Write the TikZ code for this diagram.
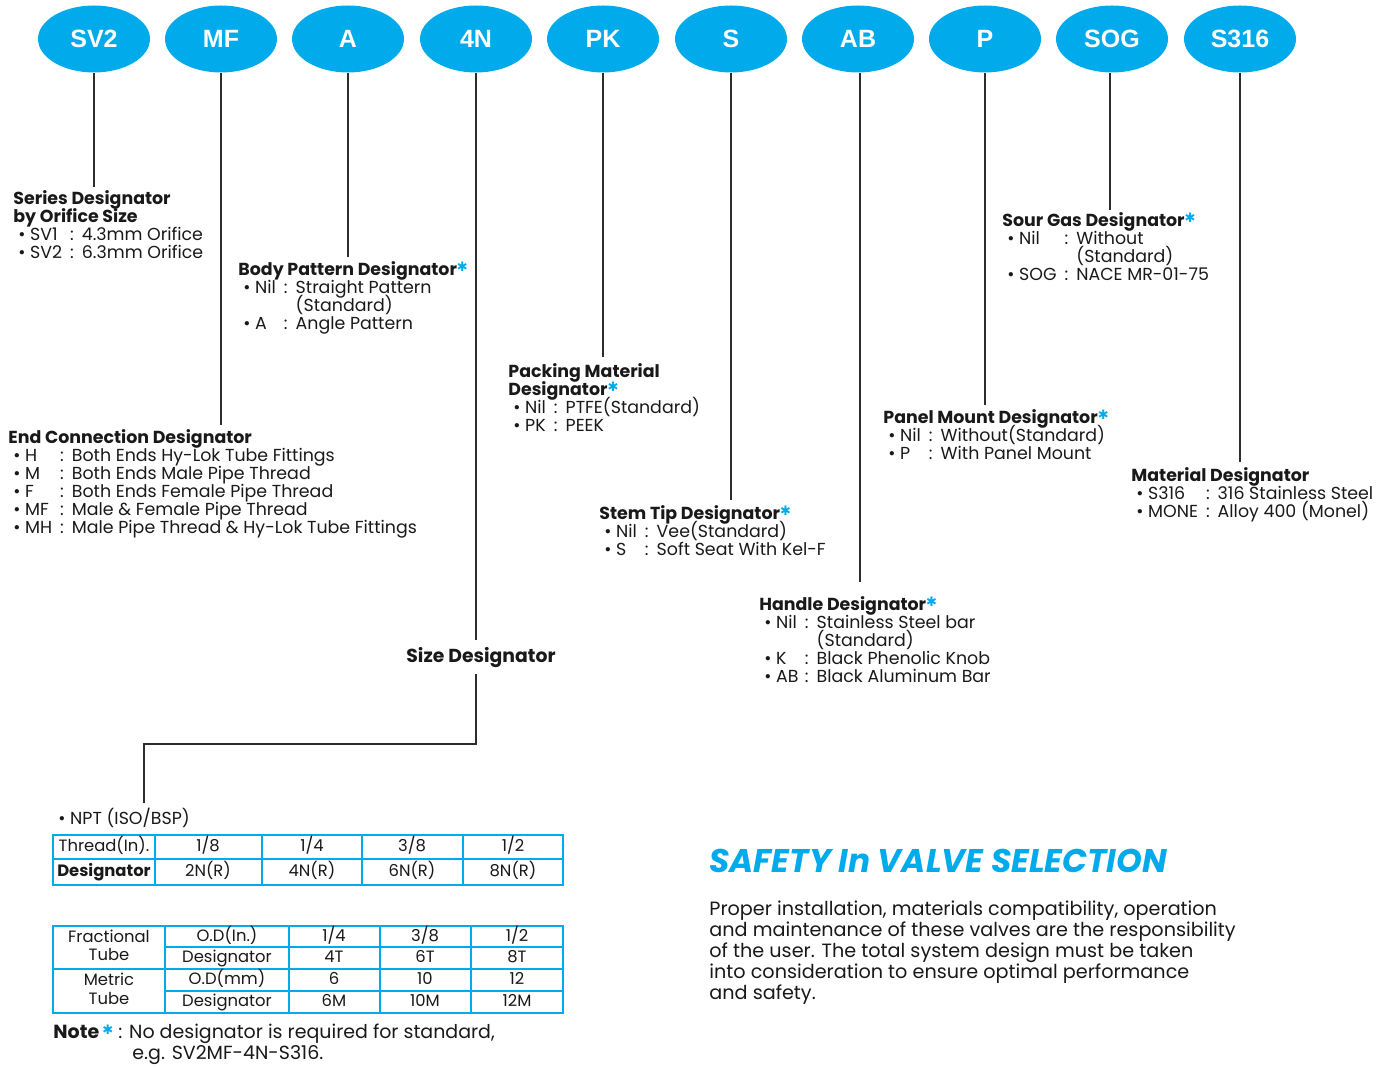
\documentclass[tikz,border=0pt]{standalone}
\usepackage{fontspec}
\setmainfont{Poppins}
\newfontfamily\lblfont{Liberation Sans}
\newfontfamily\symfont{DejaVu Sans}
\usetikzlibrary{shapes.geometric}
\definecolor{sky}{RGB}{0,170,235}
\definecolor{ink}{RGB}{25,25,25}
\definecolor{wirec}{RGB}{45,45,45}
\newcommand\bluestar{\raisebox{0.45ex}{\textcolor{sky}{\symfont\bfseries\fontsize{6.5}{6}\selectfont ✱}}}
\newcommand\itm{\hspace{2.5pt}\textbullet\ }
% block of lines with a fixed line pitch
\newcommand\lines[2]{\vtop{\baselineskip=#1\lineskiplimit=-50pt\lineskip=0pt #2}}
\newcommand\tl[1]{\hbox{\textbf{#1}}}
\newcommand\tls[1]{\hbox{\textbf{#1}\bluestar}}
% \kv{widest key}{key}{value}
\newcommand\kv[3]{\hbox{\setbox0\hbox{\itm #1\hspace{4pt}}\makebox[\wd0][l]{\itm #2}:\hspace{4pt}#3}}
\newcommand\kc[2]{\hbox{\setbox0\hbox{\itm #1\hspace{4pt}:\hspace{4pt}}\hspace*{\wd0}#2}}
\newcommand\pl[1]{\hbox{#1}}
\begin{document}
\begin{tikzpicture}[x=0.5pt,y=-0.5pt,
  bub/.style={ellipse, fill=sky, minimum width=56pt, minimum height=33.5pt, inner sep=0pt, text=white, font=\lblfont\bfseries\fontsize{12.5}{13}\selectfont},
  wire/.style={draw=wirec, line width=0.9pt},
  blk/.style={anchor=base west, inner sep=0pt, text=ink, font=\fontsize{8.7}{9}\selectfont},
  cell/.style={anchor=base, inner sep=0pt, text=ink, font=\fontsize{8.2}{9}\selectfont},
  tframe/.style={draw=sky, line width=1.4pt},
  tline/.style={draw=sky, line width=0.6pt}
]
\useasboundingbox (0,0) rectangle (1394,1068);

% ---- bubbles
\node[bub] (sv2)  at (94,39)   {SV2};
\node[bub] (mf)   at (221,39)  {MF};
\node[bub] (a)    at (348,39)  {A};
\node[bub] (n4)   at (476,39)  {4N};
\node[bub] (pk)   at (603,39)  {PK};
\node[bub] (s)    at (731,39)  {S};
\node[bub] (ab)   at (858,39)  {AB};
\node[bub] (p)    at (985,39)  {P};
\node[bub] (sog)  at (1112,39) {SOG};
\node[bub] (s316) at (1240,39) {S316};

% ---- end points of leaders
\coordinate (esv2) at (94,187);
\coordinate (emf)  at (221,425);
\coordinate (ea)   at (348,257);
\coordinate (en4)  at (476,640);
\coordinate (epk)  at (603,357);
\coordinate (es)   at (731,500);
\coordinate (eab)  at (860,582);
\coordinate (ep)   at (985,405);
\coordinate (esog) at (1110,210);
\coordinate (es316) at (1240,462);
\coordinate (n4b)  at (476,674);
\coordinate (n4c)  at (476,744);
\coordinate (n4d)  at (144,744);
\coordinate (n4e)  at (144,803);

\draw[wire] (sv2.south) -- (esv2);
\draw[wire] (mf.south) -- (emf);
\draw[wire] (a.south) -- (ea);
\draw[wire] (n4.south) -- (en4);
\draw[wire] (pk.south) -- (epk);
\draw[wire] (s.south) -- (es);
\draw[wire] (ab.south -| eab) -- (eab);
\draw[wire] (p.south) -- (ep);
\draw[wire] (sog.south -| esog) -- (esog);
\draw[wire] (s316.south) -- (es316);
\draw[wire] (n4b) -- (n4c) -- (n4d) -- (n4e);

% ---- description blocks
\node[blk] (series) at (13,205) {\lines{9pt}{%
\tl{Series Designator}
\tl{by Orifice Size}
\kv{SV2}{SV1}{4.3mm Orifice}
\kv{SV2}{SV2}{6.3mm Orifice}}};

\node[blk] (body) at (238,276) {\lines{9pt}{%
\tls{Body Pattern Designator}
\kv{Nil}{Nil}{Straight Pattern}
\kc{Nil}{(Standard)}
\kv{Nil}{A}{Angle Pattern}}};

\node[blk] (endc) at (8,444) {\lines{9pt}{%
\tl{End Connection Designator}
\kv{MH}{H}{Both Ends Hy-Lok Tube Fittings}
\kv{MH}{M}{Both Ends Male Pipe Thread}
\kv{MH}{F}{Both Ends Female Pipe Thread}
\kv{MH}{MF}{Male \& Female Pipe Thread}
\kv{MH}{MH}{Male Pipe Thread \& Hy-Lok Tube Fittings}}};

\node[blk] (packing) at (508,378) {\lines{9pt}{%
\tl{Packing Material}
\tls{Designator}
\kv{Nil}{Nil}{PTFE(Standard)}
\kv{Nil}{PK}{PEEK}}};

\node[blk] (stem) at (599,520) {\lines{9pt}{%
\tls{Stem Tip Designator}
\kv{Nil}{Nil}{Vee(Standard)}
\kv{Nil}{S}{Soft Seat With Kel-F}}};

\node[blk] (handle) at (759,611) {\lines{9pt}{%
\tls{Handle Designator}
\kv{Nil}{Nil}{Stainless Steel bar}
\kc{Nil}{(Standard)}
\kv{Nil}{K}{Black Phenolic Knob}
\kv{Nil}{AB}{Black Aluminum Bar}}};

\node[blk] (panel) at (883,424) {\lines{9pt}{%
\tls{Panel Mount Designator}
\kv{Nil}{Nil}{Without(Standard)}
\kv{Nil}{P}{With Panel Mount}}};

\node[blk] (sour) at (1002,227) {\lines{9pt}{%
\tls{Sour Gas Designator}
\kv{SOG}{Nil}{Without}
\kc{SOG}{(Standard)}
\kv{SOG}{SOG}{NACE MR-01-75}}};

\node[blk] (material) at (1131,482) {\lines{9pt}{%
\tl{Material Designator}
\kv{MONE}{S316}{316 Stainless Steel}
\kv{MONE}{MONE}{Alloy 400 (Monel)}}};

\node[anchor=base, inner sep=0pt, text=ink, font=\bfseries\fontsize{9.4}{10}\selectfont] (size) at (481,663) {Size Designator};

% ---- thread table
\node[blk] (npt) at (58,825) {\textbullet\ NPT (ISO/BSP)};
\draw[tline] (53,859) -- (563,859);
\foreach \xx in {155,262,362,463} \draw[tline] (\xx,835) -- (\xx,885);
\draw[tframe] (53,835) rectangle (563,885);
\node[cell] (th0) at (104,852) {Thread(In).};
\node[cell] (th1) at (208,852) {1/8};
\node[cell] (th2) at (312,852) {1/4};
\node[cell] (th3) at (412,852) {3/8};
\node[cell] (th4) at (513,852) {1/2};
\node[cell] (td0) at (104,877) {\textbf{Designator}};
\node[cell] (td1) at (208,877) {2N(R)};
\node[cell] (td2) at (312,877) {4N(R)};
\node[cell] (td3) at (412,877) {6N(R)};
\node[cell] (td4) at (513,877) {8N(R)};

% ---- tube table
\draw[tline] (165,947) -- (563,947);
\draw[tline] (53,969) -- (563,969);
\draw[tline] (165,991) -- (563,991);
\foreach \xx in {165,289,380,471} \draw[tline] (\xx,926) -- (\xx,1013);
\draw[tframe] (53,926) rectangle (563,1013);
\node[cell] (fr1) at (109,943) {Fractional};
\node[cell] (fr2) at (109,961) {Tube};
\node[cell] (me1) at (109,986) {Metric};
\node[cell] (me2) at (109,1005) {Tube};
\node[cell] (fo0) at (227,942) {O.D(In.)};
\node[cell] (fo1) at (334,942) {1/4};
\node[cell] (fo2) at (425,942) {3/8};
\node[cell] (fo3) at (517,942) {1/2};
\node[cell] (fd0) at (227,963) {Designator};
\node[cell] (fd1) at (334,963) {4T};
\node[cell] (fd2) at (425,963) {6T};
\node[cell] (fd3) at (517,963) {8T};
\node[cell] (mo0) at (227,985) {O.D(mm)};
\node[cell] (mo1) at (334,985) {6};
\node[cell] (mo2) at (425,985) {10};
\node[cell] (mo3) at (517,985) {12};
\node[cell] (md0) at (227,1007) {Designator};
\node[cell] (md1) at (334,1007) {6M};
\node[cell] (md2) at (425,1007) {10M};
\node[cell] (md3) at (517,1007) {12M};

% ---- note
\node[blk, font=\fontsize{9.5}{10}\selectfont] (note) at (53,1039) {\textbf{Note}\,\bluestar\ : No designator is required for standard,};
\node[blk, font=\fontsize{9.5}{10}\selectfont] (noteeg) at (132,1060) {e.g. SV2MF-4N-S316.};

% ---- safety
\node[anchor=base west, inner sep=0pt, text=sky, font=\bfseries\itshape\fontsize{16.4}{18}\selectfont] (safety) at (709,873) {SAFETY In VALVE SELECTION};
\node[blk, font=\fontsize{9.6}{10.5}\selectfont] (para) at (709,916) {\lines{10.5pt}{%
\pl{Proper installation, materials compatibility, operation}
\pl{and maintenance of these valves are the responsibility}
\pl{of the user. The total system design must be taken}
\pl{into consideration to ensure optimal performance}
\pl{and safety.}}};
\end{tikzpicture}
\end{document}
